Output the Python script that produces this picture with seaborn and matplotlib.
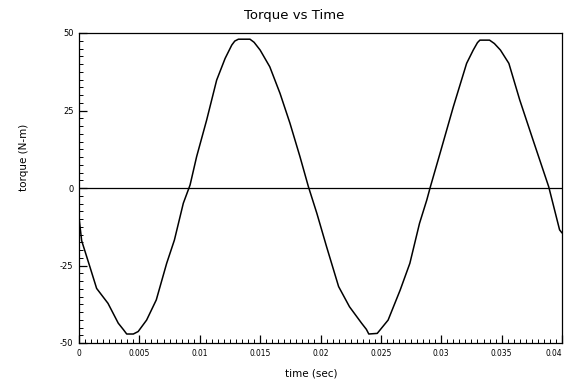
import matplotlib
matplotlib.use("Agg")
import matplotlib.pyplot as plt
from matplotlib.ticker import MultipleLocator, FixedLocator, FixedFormatter
import seaborn as sns
import pandas as pd

time_s = [0.0, 0.00022, 0.0009, 0.00146, 0.0024, 0.00325, 0.0037, 0.00395, 0.0045, 0.0049,
          0.0056, 0.0064, 0.00726, 0.0079, 0.00864, 0.00905, 0.0092, 0.00974, 0.01057,
          0.0114, 0.0121, 0.01265, 0.0129, 0.0132, 0.01416, 0.0145, 0.015, 0.0158, 0.01665, 0.01747,
          0.0183, 0.019, 0.0197, 0.0205, 0.0215, 0.0224, 0.0234, 0.0238, 0.024, 0.0247,
          0.0256, 0.0266, 0.0274, 0.0282, 0.0288, 0.0291, 0.0299, 0.031, 0.0321,
          0.03265, 0.0330, 0.0332, 0.034, 0.0344, 0.0349, 0.0356, 0.0365, 0.0376, 0.0389, 0.0398, 0.04]
torque = [-9.5, -17.0, -25.4, -32.4, -37.2, -43.6, -45.8, -47.1, -47.1, -46.3,
          -42.6, -36.1, -24.3, -16.8, -4.9, -0.6, 1.0, 10.1, 21.9,
          34.8, 41.8, 46.1, 47.4, 48.0, 48.0, 47.0, 44.5, 39.1, 30.5, 20.9,
          10.1, 0.4, -8.2, -18.9, -31.8, -38.3, -43.6, -45.6, -47.1, -46.9,
          -42.6, -32.9, -24.3, -11.4, -3.9, 0.4, 11.2, 26.2, 40.2,
          44.5, 46.9, 47.7, 47.7, 46.6, 44.5, 40.2, 28.4, 15.5, 0.4, -13.5, -14.5]

x_ticks = [0, 0.005, 0.01, 0.015, 0.02, 0.025, 0.03, 0.035, 0.04]
x_tick_labels = ["0", "0.005", "0.01", "0.015", "0.02", "0.025", "0.03", "0.035", "0.04"]
y_ticks = [-50, -25, 0, 25, 50]
y_tick_labels = ["-50", "-25", "0", "25", "50"]

df = pd.DataFrame({"time": time_s, "torque": torque})

sns.set_style("ticks")
plt.rcParams["font.family"] = ["DejaVu Sans"]

fig = plt.figure(figsize=(5.67, 3.83), dpi=100)
ax = fig.add_axes([79/567, 1 - 343/383, (562-79)/567, (343-33)/383])

sns.lineplot(data=df, x="time", y="torque", color="black", linewidth=1.1, ax=ax)
ax.axhline(0, color="black", linewidth=0.9)

ax.set_xlim(0, 0.04)
ax.set_ylim(-50, 50)
ax.xaxis.set_major_locator(FixedLocator(x_ticks))
ax.xaxis.set_major_formatter(FixedFormatter(x_tick_labels))
ax.yaxis.set_major_locator(FixedLocator(y_ticks))
ax.yaxis.set_major_formatter(FixedFormatter(y_tick_labels))
ax.xaxis.set_minor_locator(MultipleLocator(0.0005))
ax.yaxis.set_minor_locator(MultipleLocator(2.5))
ax.tick_params(axis="both", which="major", direction="in", length=6, width=0.9,
               color="black", labelcolor="black", labelsize=6, pad=4,
               bottom=True, left=True, top=False, right=False)
ax.tick_params(axis="both", which="minor", direction="in", length=3, width=0.7,
               color="black", bottom=True, left=True, top=False, right=False)
for lab in ax.get_xticklabels():
    lab.set_fontstretch("condensed")
lbls = ax.get_xticklabels()
lbls[-1].set_horizontalalignment("right")
for s in ax.spines.values():
    s.set_visible(True)
    s.set_linewidth(0.9)
    s.set_color("black")

ax.set_xlabel("time (sec)", fontsize=7.5, labelpad=8, color="black", x=(311 - 79) / 483)
ax.set_ylabel("torque (N-m)", fontsize=7.5, labelpad=22, color="black", y=(343 - 157) / 310)
ax.set_title("Torque vs Time", fontsize=9.5, pad=10, color="black", x=(294 - 79) / 483)

fig.savefig("out.png", dpi=100)
